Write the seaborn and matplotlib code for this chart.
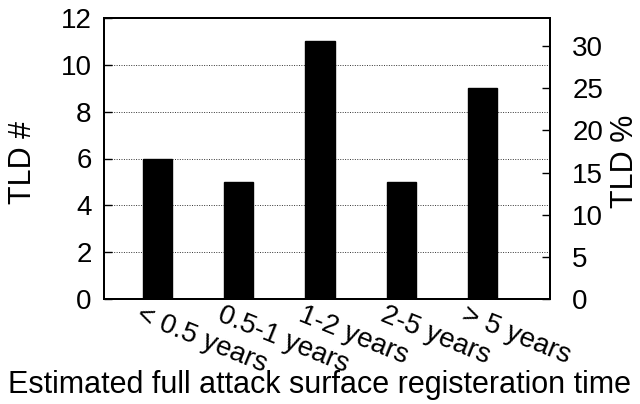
import matplotlib
matplotlib.use("Agg")
import matplotlib.pyplot as plt
import matplotlib.transforms as mtransforms
import seaborn as sns
import pandas as pd

# data
periods = ['< 0.5 years', '0.5-1 years', '1-2 years', '2-5 years', '> 5 years']
tld_counts = [6, 5, 11, 5, 9]
left_ticks = [0, 2, 4, 6, 8, 10, 12]
right_ticks = [0, 5, 10, 15, 20, 25, 30]

sns.set_style("white")
plt.rcParams['font.family'] = ['Liberation Sans', 'DejaVu Sans']
plt.rcParams['text.color'] = 'black'
plt.rcParams['axes.labelcolor'] = 'black'
plt.rcParams['xtick.color'] = 'black'
plt.rcParams['ytick.color'] = 'black'

df = pd.DataFrame({'period': periods, 'tlds': tld_counts})
total = sum(tld_counts)

fig = plt.figure(figsize=(6.4, 4.04), dpi=100)
ax = fig.add_axes([104 / 640, 1 - 299 / 404, (550 - 104) / 640, (299 - 18) / 404])

sns.barplot(data=df, x='period', y='tlds', color='black', width=0.36,
            saturation=1, edgecolor='black', ax=ax, zorder=3)

ax.set_xlim(-0.66, 4.83)
ax.set_ylim(0, 12)
ax.set_yticks(left_ticks)
ax.yaxis.grid(True, linestyle=(0, (1, 1.5)), color='#333333', linewidth=0.7, zorder=0)
ax.set_axisbelow(True)

# right axis in percent of all TLDs
ax2 = ax.twinx()
ax2.set_ylim(0, 12 * 100 / total)
ax2.set_yticks(right_ticks)

for a in (ax, ax2):
    for sp in a.spines.values():
        sp.set_visible(True)
        sp.set_linewidth(1.4)
        sp.set_color('black')

ax.tick_params(axis='y', direction='in', length=6, width=1, labelsize=20, pad=9)
ax.tick_params(axis='x', length=0, labelsize=20, pad=2)
ax2.tick_params(axis='y', direction='in', length=6, width=1, labelsize=20, pad=16)

ax.set_ylabel('TLD #', fontsize=22)
ax.yaxis.set_label_coords((23 - 104) / 446, (299 - 162) / 281)
ax.yaxis.label.set_ha('center')
ax.yaxis.label.set_va('center')

ax2.set_ylabel('TLD %', fontsize=22)
ax2.yaxis.set_label_coords((625 - 104) / 446, (299 - 161) / 281)
ax2.yaxis.label.set_ha('center')
ax2.yaxis.label.set_va('center')

ax.set_xlabel('Estimated full attack surface registeration time', fontsize=22)
ax.xaxis.set_label_coords((320 - 104) / 446, (299 - 370) / 281)

shift = mtransforms.ScaledTranslation(-15 / 100, 0, fig.dpi_scale_trans)
for lbl in ax.get_xticklabels():
    lbl.set_rotation(-22)
    lbl.set_ha('left')
    lbl.set_va('top')
    lbl.set_rotation_mode('anchor')
    lbl.set_transform(lbl.get_transform() + shift)

fig.savefig('out.png', dpi=100)
